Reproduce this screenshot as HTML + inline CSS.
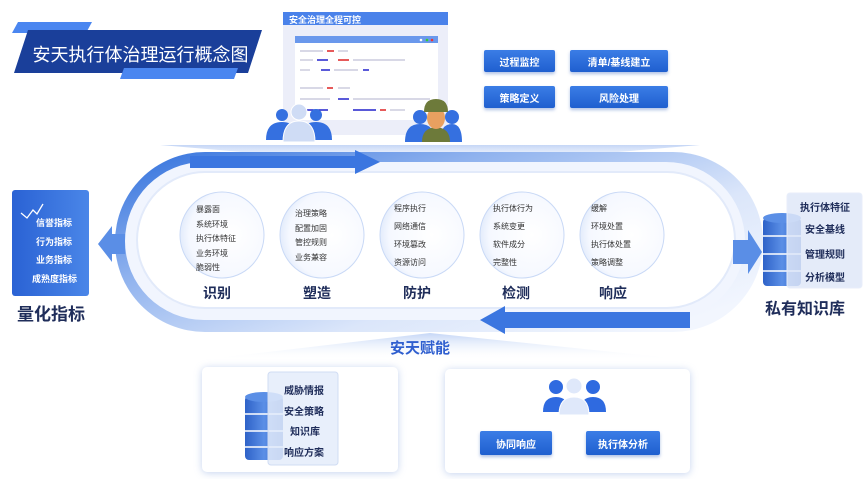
<!DOCTYPE html>
<html><head><meta charset="utf-8"><style>
*{margin:0;padding:0;box-sizing:border-box}
body{width:865px;height:479px;background:#fff;position:relative;overflow:hidden;font-family:"Liberation Sans","Noto Sans CJK SC",sans-serif}
.a{position:absolute}
.t{position:absolute;font-size:8px;color:#333;white-space:nowrap}
.lbl{position:absolute;font-size:14px;font-weight:bold;color:#1f2d5a;white-space:nowrap}
.btn{position:absolute;background:linear-gradient(#3b7de6,#1f5fcf);color:#fff;font-size:10px;font-weight:bold;display:flex;align-items:center;justify-content:center;border-radius:2px;box-shadow:0 2px 3px rgba(30,80,180,.35)}
.w{position:absolute;color:#fff;font-size:9px;font-weight:bold;white-space:nowrap}
.d{position:absolute;font-size:10px;font-weight:bold;color:#1f2d5a;white-space:nowrap}
</style></head><body>
<svg class="a" style="left:0;top:0" width="865" height="479">
<defs>
<linearGradient id="rg" x1="0" y1="0" x2="1" y2="0.8"><stop offset="0" stop-color="#2f6fdc"/><stop offset=".35" stop-color="#8fb2ee"/><stop offset=".7" stop-color="#dbe6fa"/><stop offset="1" stop-color="#f2f6fe"/></linearGradient>
<linearGradient id="bg" x1="0" y1="0" x2="1" y2="0"><stop offset="0" stop-color="#2a62d4"/><stop offset="1" stop-color="#4a86e8"/></linearGradient>
<linearGradient id="fan" x1="0" y1="0" x2="0" y2="1"><stop offset="0" stop-color="#9ebbf0"/><stop offset="1" stop-color="#fff" stop-opacity="0"/></linearGradient>
<radialGradient id="cg" cx=".62" cy=".5" r=".6"><stop offset="0" stop-color="#fff"/><stop offset=".85" stop-color="#f5f8ff"/><stop offset="1" stop-color="#e6eefc"/></radialGradient>
<linearGradient id="db" x1="0" y1="0" x2="1" y2="0"><stop offset="0" stop-color="#2e62c8"/><stop offset=".5" stop-color="#5b8fe6"/><stop offset="1" stop-color="#2e62c8"/></linearGradient>
</defs>
<polygon points="18,22 92,22 86,33 12,33" fill="#4a86f0"/>
<polygon points="28,30 262,30 248,73 14,73" fill="#1a3f9a"/>
<polygon points="124,68 238,68 234,79 120,79" fill="#4a86f0"/>
<polygon points="160,145 700,145 430,168" fill="url(#fan)" opacity=".6"/>
<polygon points="200,360 690,360 430,333" fill="url(#fan)" opacity=".6"/>
<rect x="115" y="152" width="648" height="180" rx="90" fill="url(#rg)"/>
<rect x="125" y="162" width="620" height="158" rx="79" fill="#f1f5fe"/>
<rect x="137" y="172" width="598" height="136" rx="68" fill="#fff" stroke="#e2eafa" stroke-width="2"/>
<path d="M190,156 L355,156 L355,150 L380,162 L355,174 L355,168 L190,168 Z" fill="#3b76e0"/>
<path d="M690,312 L505,312 L505,306 L480,320 L505,334 L505,328 L690,328 Z" fill="#3b76e0"/>
<polygon points="125,234 112,234 112,226 98,244 112,262 112,254 125,254" fill="#5a8ee6"/>
<polygon points="733,240 748,240 748,230 762,252 748,274 748,264 733,264" fill="#5a8ee6"/>
<g stroke="#c9d9f6" stroke-width="1">
<ellipse cx="222" cy="235" rx="42" ry="43" fill="url(#cg)"/>
<ellipse cx="322" cy="235" rx="42" ry="43" fill="url(#cg)"/>
<ellipse cx="422" cy="235" rx="42" ry="43" fill="url(#cg)"/>
<ellipse cx="522" cy="235" rx="42" ry="43" fill="url(#cg)"/>
<ellipse cx="622" cy="235" rx="42" ry="43" fill="url(#cg)"/>
</g>
<rect x="12" y="190" width="77" height="106" rx="3" fill="url(#bg)"/>
<polyline points="21,213 27,218 33,210 37,214 43,204" fill="none" stroke="#fff" stroke-width="1.3"/>
<rect x="763" y="218" width="38" height="68" rx="4" fill="url(#db)"/>
<ellipse cx="782" cy="218" rx="19" ry="5" fill="#5b8fe6"/>
<line x1="763" y1="236" x2="801" y2="236" stroke="#fff" stroke-width="1.5"/>
<line x1="763" y1="254" x2="801" y2="254" stroke="#fff" stroke-width="1.5"/>
<line x1="763" y1="271" x2="801" y2="271" stroke="#fff" stroke-width="1.5"/>
<rect x="787" y="193" width="75" height="95" rx="3" fill="#dfe8f8" fill-opacity=".85" stroke="#e8eefa"/>
<rect x="202" y="367" width="196" height="105" rx="5" fill="#fff" style="filter:drop-shadow(0 1px 4px rgba(90,130,210,.35))"/>
<rect x="445" y="369" width="245" height="104" rx="5" fill="#fff" style="filter:drop-shadow(0 1px 4px rgba(90,130,210,.35))"/>
<rect x="245" y="396" width="38" height="64" rx="4" fill="url(#db)"/>
<ellipse cx="264" cy="397" rx="19" ry="5" fill="#5b8fe6"/>
<line x1="245" y1="414" x2="283" y2="414" stroke="#fff" stroke-width="1.5"/>
<line x1="245" y1="431" x2="283" y2="431" stroke="#fff" stroke-width="1.5"/>
<line x1="245" y1="447" x2="283" y2="447" stroke="#fff" stroke-width="1.5"/>
<rect x="268" y="372" width="70" height="93" rx="3" fill="#e4ecfa" fill-opacity=".85" stroke="#d0dcf3"/>
<g fill="#2f6ae0"><circle cx="556" cy="387" r="7"/><path d="M543,412 Q543,397 556,397 Q569,397 569,412Z"/>
<circle cx="593" cy="387" r="7"/><path d="M580,412 Q580,397 593,397 Q606,397 606,412Z"/></g>
<g fill="#dfe8fa" stroke="#fff"><circle cx="574" cy="386" r="8"/><path d="M559,415 Q559,397 574,397 Q589,397 589,415Z"/></g>
<rect x="283" y="12" width="165" height="123" rx="2" fill="#eceef9"/>
<rect x="283" y="12" width="165" height="13" fill="#4a82ea"/>
<rect x="295" y="36" width="143" height="84" rx="2" fill="#fff"/>
<rect x="295" y="36" width="143" height="7" fill="#6a98ec"/>
<circle cx="421" cy="40" r="1.3" fill="#fff"/><circle cx="427" cy="40" r="1.3" fill="#3c3"/><circle cx="432" cy="40" r="1.3" fill="#e33"/>
<g stroke-width="1.5">
<line x1="300" y1="51" x2="323" y2="51" stroke="#ccd"/><line x1="327" y1="51" x2="334" y2="51" stroke="#d22"/><line x1="338" y1="51" x2="348" y2="51" stroke="#ccd"/>
<line x1="300" y1="60" x2="313" y2="60" stroke="#ccd"/><line x1="317" y1="60" x2="328" y2="60" stroke="#22c"/><line x1="338" y1="60" x2="349" y2="60" stroke="#d22"/><line x1="353" y1="60" x2="405" y2="60" stroke="#ccd"/>
<line x1="300" y1="70" x2="310" y2="70" stroke="#ccd"/><line x1="321" y1="70" x2="330" y2="70" stroke="#22c"/><line x1="334" y1="70" x2="358" y2="70" stroke="#ccd"/><line x1="363" y1="70" x2="369" y2="70" stroke="#22c"/>
<line x1="300" y1="88" x2="323" y2="88" stroke="#ccd"/><line x1="327" y1="88" x2="333" y2="88" stroke="#d22"/><line x1="338" y1="88" x2="350" y2="88" stroke="#ccd"/>
<line x1="300" y1="99" x2="330" y2="99" stroke="#ccd"/><line x1="338" y1="99" x2="349" y2="99" stroke="#22c"/><line x1="353" y1="99" x2="430" y2="99" stroke="#ccd"/>
<line x1="300" y1="110" x2="328" y2="110" stroke="#22c"/><line x1="353" y1="110" x2="376" y2="110" stroke="#22c"/><line x1="380" y1="110" x2="386" y2="110" stroke="#d22"/><line x1="390" y1="110" x2="405" y2="110" stroke="#ccd"/>
</g>
<g fill="#3570e0"><circle cx="282" cy="115" r="6"/><path d="M266,140 Q266,122 282,122 Q298,122 298,140Z"/>
<circle cx="316" cy="115" r="6"/><path d="M300,140 Q300,122 316,122 Q332,122 332,140Z"/></g>
<g fill="#cfdcf5" stroke="#fff"><circle cx="299" cy="112" r="8"/><path d="M283,142 Q283,121 299,121 Q315,121 315,142Z"/></g>
<g fill="#3570e0"><circle cx="420" cy="117" r="7"/><path d="M405,142 Q405,124 420,124 Q435,124 435,142Z"/><circle cx="452" cy="117" r="7"/><path d="M440,142 Q440,124 452,124 Q462,124 462,142Z"/></g>
<path d="M422,142 Q422,128 436,127 Q450,128 450,142Z" fill="#6d7a3a"/>
<ellipse cx="436" cy="118" rx="9" ry="11" fill="#e8a060"/>
<path d="M424,112 Q424,99 436,99 Q448,99 448,112Z" fill="#6d7a3a"/>
</svg>

<div class="a" style="left:28px;top:41px;width:225px;text-align:center;color:#fff;font-size:18px">安天执行体治理运行概念图</div>
<div class="a" style="left:289px;top:13px;color:#fff;font-size:9px;font-weight:bold">安全治理全程可控</div>

<div class="btn" style="left:484px;top:50px;width:71px;height:22px">过程监控</div>
<div class="btn" style="left:570px;top:50px;width:98px;height:22px">清单/基线建立</div>
<div class="btn" style="left:484px;top:86px;width:71px;height:22px">策略定义</div>
<div class="btn" style="left:570px;top:86px;width:98px;height:22px">风险处理</div>

<div class="t" style="left:196px;top:204px">暴露面</div>
<div class="t" style="left:196px;top:219px">系统环境</div>
<div class="t" style="left:196px;top:233px">执行体特征</div>
<div class="t" style="left:196px;top:248px">业务环境</div>
<div class="t" style="left:196px;top:262px">脆弱性</div>
<div class="t" style="left:295px;top:208px">治理策略</div>
<div class="t" style="left:295px;top:223px">配置加固</div>
<div class="t" style="left:295px;top:237px">管控规则</div>
<div class="t" style="left:295px;top:252px">业务兼容</div>
<div class="t" style="left:394px;top:203px">程序执行</div>
<div class="t" style="left:394px;top:221px">网络通信</div>
<div class="t" style="left:394px;top:239px">环境篡改</div>
<div class="t" style="left:394px;top:257px">资源访问</div>
<div class="t" style="left:493px;top:203px">执行体行为</div>
<div class="t" style="left:493px;top:221px">系统变更</div>
<div class="t" style="left:493px;top:239px">软件成分</div>
<div class="t" style="left:493px;top:257px">完整性</div>
<div class="t" style="left:591px;top:203px">缓解</div>
<div class="t" style="left:591px;top:221px">环境处置</div>
<div class="t" style="left:591px;top:239px">执行体处置</div>
<div class="t" style="left:591px;top:257px">策略调整</div>

<div class="lbl" style="left:203px;top:283px">识别</div>
<div class="lbl" style="left:303px;top:283px">塑造</div>
<div class="lbl" style="left:403px;top:283px">防护</div>
<div class="lbl" style="left:502px;top:283px">检测</div>
<div class="lbl" style="left:599px;top:283px">响应</div>

<div class="w" style="left:36px;top:216px">信誉指标</div>
<div class="w" style="left:36px;top:235px">行为指标</div>
<div class="w" style="left:36px;top:253px">业务指标</div>
<div class="w" style="left:32px;top:272px">成熟度指标</div>
<div class="a" style="left:17px;top:300px;font-size:17px;font-weight:bold;color:#1f2d5a">量化指标</div>

<div class="d" style="left:800px;top:199px">执行体特征</div>
<div class="d" style="left:805px;top:221px">安全基线</div>
<div class="d" style="left:805px;top:246px">管理规则</div>
<div class="d" style="left:805px;top:269px">分析模型</div>
<div class="a" style="left:765px;top:295px;font-size:16px;font-weight:bold;color:#1f2d5a">私有知识库</div>

<div class="a" style="left:390px;top:337px;font-size:15px;font-weight:bold;color:#2f5fcf">安天赋能</div>

<div class="d" style="left:284px;top:382px">威胁情报</div>
<div class="d" style="left:284px;top:403px">安全策略</div>
<div class="d" style="left:290px;top:423px">知识库</div>
<div class="d" style="left:284px;top:444px">响应方案</div>

<div class="btn" style="left:480px;top:431px;width:72px;height:24px">协同响应</div>
<div class="btn" style="left:586px;top:431px;width:74px;height:24px">执行体分析</div>
</body></html>
